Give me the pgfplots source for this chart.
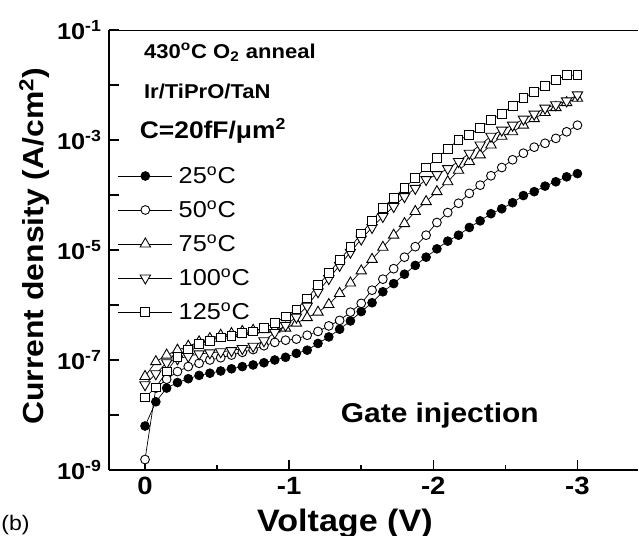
\documentclass[border=0pt]{standalone}
\usepackage{fontspec}
\setmainfont{Liberation Sans}[FakeStretch=1.1]
\usepackage{pgfplots}
\usepackage{pgfplotstable}
\pgfplotsset{compat=1.18}

\pgfplotstableread{
V      c25     c50     c75     c100    c125
0      6.31e-9 1.55e-9 5.01e-8 3.55e-8 2.09e-8
-0.075 1.74e-8 3.09e-8 9.33e-8 5.62e-8 3.16e-8
-0.15  3.09e-8 4.47e-8 1.23e-7 8.91e-8 6.17e-8
-0.225 3.89e-8 6.17e-8 1.51e-7 1.05e-7 1.15e-7
-0.3   4.57e-8 7.59e-8 1.78e-7 1.17e-7 1.55e-7
-0.375 5.25e-8 8.71e-8 2.14e-7 1.29e-7 1.95e-7
-0.45  5.75e-8 1.00e-7 2.45e-7 1.35e-7 2.24e-7
-0.525 6.31e-8 1.10e-7 2.82e-7 1.41e-7 2.57e-7
-0.6   6.92e-8 1.23e-7 3.02e-7 1.48e-7 2.75e-7
-0.675 7.59e-8 1.38e-7 3.31e-7 1.62e-7 3.09e-7
-0.75  8.13e-8 1.55e-7 3.47e-7 1.78e-7 3.31e-7
-0.825 8.91e-8 1.82e-7 3.55e-7 2.24e-7 3.89e-7
-0.9   1.00e-7 2.09e-7 3.63e-7 3.16e-7 4.68e-7
-0.975 1.12e-7 2.29e-7 3.80e-7 4.27e-7 6.17e-7
-1.05  1.32e-7 2.40e-7 4.68e-7 6.03e-7 8.32e-7
-1.125 1.51e-7 2.82e-7 5.89e-7 9.55e-7 1.32e-6
-1.2   2.00e-7 3.31e-7 7.41e-7 1.74e-6 2.29e-6
-1.275 2.63e-7 4.17e-7 1.02e-6 3.02e-6 3.80e-6
-1.35  3.63e-7 5.25e-7 1.62e-6 5.25e-6 6.61e-6
-1.425 5.13e-7 7.41e-7 2.51e-6 9.12e-6 1.12e-5
-1.5   7.59e-7 1.07e-6 4.17e-6 1.58e-5 2.00e-5
-1.575 1.10e-6 1.86e-6 6.76e-6 2.57e-5 3.39e-5
-1.65  1.74e-6 2.95e-6 1.12e-5 4.07e-5 5.89e-5
-1.725 2.45e-6 4.57e-6 1.86e-5 6.17e-5 8.91e-5
-1.8   3.63e-6 7.41e-6 3.02e-5 9.33e-5 1.35e-4
-1.875 5.25e-6 1.15e-5 5.01e-5 1.32e-4 2.04e-4
-1.95  7.41e-6 1.86e-5 7.59e-5 1.91e-4 3.16e-4
-2.025 1.05e-5 3.16e-5 1.15e-4 2.34e-4 4.68e-4
-2.1   1.45e-5 4.79e-5 1.74e-4 3.02e-4 6.92e-4
-2.175 1.86e-5 7.08e-5 2.82e-4 4.07e-4 1.00e-3
-2.25  2.57e-5 1.07e-4 4.07e-4 5.75e-4 1.23e-3
-2.325 3.39e-5 1.51e-4 5.37e-4 8.13e-4 1.66e-3
-2.4   4.57e-5 2.24e-4 8.13e-4 1.17e-3 2.29e-3
-2.475 5.62e-5 3.16e-4 1.17e-3 1.51e-3 3.02e-3
-2.55  7.24e-5 4.37e-4 1.41e-3 1.86e-3 4.17e-3
-2.625 9.77e-5 5.75e-4 1.86e-3 2.40e-3 5.75e-3
-2.7   1.15e-4 7.41e-4 2.45e-3 2.95e-3 7.59e-3
-2.775 1.45e-4 8.71e-4 3.16e-3 3.80e-3 9.55e-3
-2.85  1.74e-4 1.07e-3 3.89e-3 4.37e-3 1.23e-2
-2.925 2.14e-4 1.41e-3 4.79e-3 5.13e-3 1.51e-2
-3.0   2.45e-4 1.86e-3 5.75e-3 6.61e-3 1.51e-2
}\datatable

\begin{document}
\begin{tikzpicture}
\begin{axis}[
  at={(54.5pt,33pt)}, anchor=south west,
  scale only axis, width=264.5pt, height=220pt,
  ymode=log, ymin=1e-9, ymax=1e-1,
  xmin=-3.42, xmax=0.25, x dir=reverse,
  axis x line*=bottom, axis y line*=left,
  axis line style={-, line width=1pt},
  tick align=inside,
  major tick length=5pt, minor tick length=2.5pt,
  tick style={line width=0.8pt, black},
  xtick={0,-1,-2,-3}, xticklabels={0,-1,-2,-3},
  minor x tick num=1,
  ytick={1e-9,1e-8,1e-7,1e-6,1e-5,1e-4,1e-3,1e-2,1e-1},
  yticklabels={10\textsuperscript{-9},,10\textsuperscript{-7},,10\textsuperscript{-5},,10\textsuperscript{-3},,10\textsuperscript{-1}},
  yminorticks=false,
  xticklabel style={font=\fontsize{12.5}{12.5}\selectfont\bfseries},
  yticklabel style={font=\fontsize{11.5}{11.5}\selectfont\bfseries},
  xlabel={Voltage (V)},
  xlabel style={at={(axis description cs:0.446,-0.139)}, anchor=base, font=\fontsize{15.5}{15.5}\selectfont\bfseries},
  ylabel={Current density (A/cm\textsuperscript{2})},
  ylabel style={at={(axis description cs:-0.123,0.509)}, anchor=base, font=\fontsize{14.5}{14.5}\selectfont\bfseries},
  legend style={draw=none, fill=none, at={(axis description cs:0.017,0.6864)}, anchor=north west,
    inner sep=0pt, outer sep=0pt, row sep=9pt,
    font=\fontsize{11.5}{11.5}\selectfont,
    nodes={inner sep=0pt, text height=8pt, text depth=0pt},
    /tikz/every odd column/.append style={column sep=3pt}},
  legend cell align=left,
  legend image code/.code={\draw[mark repeat=2,mark phase=2] plot coordinates {(0pt,0pt) (13.5pt,0pt) (27pt,0pt)};},
  every axis plot/.append style={line width=0.35pt, black},
]
\addplot[mark=*, mark size=2.2pt, mark options={fill=black, line width=0.4pt}] table[x=V,y=c25]{\datatable};
\addlegendentry{25\textsuperscript{o}C}
\addplot[mark=*, mark size=2.2pt, mark options={fill=white, line width=0.45pt}] table[x=V,y=c50]{\datatable};
\addlegendentry{50\textsuperscript{o}C}
\addplot[mark=triangle*, mark size=3pt, mark options={fill=white, line width=0.45pt}] table[x=V,y=c75]{\datatable};
\addlegendentry{75\textsuperscript{o}C}
\addplot[mark=triangle*, mark size=3pt, mark options={fill=white, rotate=180, line width=0.45pt}] table[x=V,y=c100]{\datatable};
\addlegendentry{100\textsuperscript{o}C}
\addplot[mark=square*, mark size=2.2pt, mark options={fill=white, line width=0.45pt}] table[x=V,y=c125]{\datatable};
\addlegendentry{125\textsuperscript{o}C}
\draw[line width=1pt] (rel axis cs:0,1) -- (rel axis cs:1,1);
\node[anchor=base west, font=\fontsize{10}{10}\selectfont\bfseries] at (axis description cs:0.053,0.936) {430\textsuperscript{o}C O\textsubscript{2} anneal};
\node[anchor=base west, font=\fontsize{10}{10}\selectfont\bfseries] at (axis description cs:0.053,0.845) {Ir/TiPrO/TaN};
\node[anchor=base west, font=\fontsize{12}{12}\selectfont\bfseries] at (axis description cs:0.045,0.7545) {C=20fF/μm\textsuperscript{2}};
\node[anchor=base west, font=\fontsize{13.6}{13.6}\selectfont\bfseries] at (axis description cs:0.425,0.107) {Gate injection};
\end{axis}
\node[anchor=base west, inner sep=0pt, font=\fontsize{10.5}{10.5}\selectfont] at (0.5pt,2.5pt) {(b)};
\pgfresetboundingbox
\path[use as bounding box] (0,0) rectangle (319.5pt,268pt);
\end{tikzpicture}
\end{document}
